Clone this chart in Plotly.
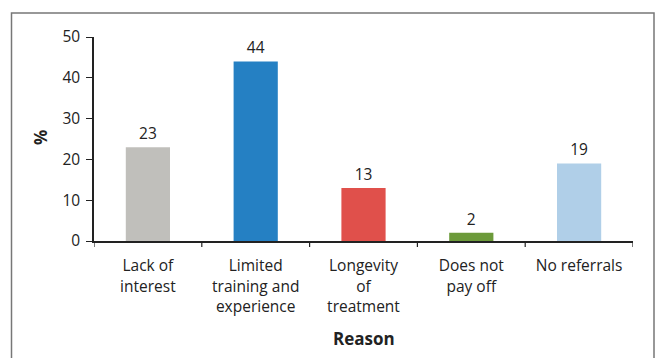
import plotly.graph_objects as go

# Reasons for not offering the service and share of respondents (%)
reasons = ["Lack of<br>interest", "Limited<br>training and<br>experience",
           "Longevity<br>of<br>treatment", "Does not<br>pay off", "No referrals"]
percent = [23, 44, 13, 2, 19]
bar_colors = ["#C0BFBB", "#2580C3", "#E0504B", "#6C9A3A", "#B0CFE8"]
y_ticks = [0, 10, 20, 30, 40, 50]

W, H = 657, 358
L, R, T, B = 94, 24, 37, 117
pw, ph = W - L - R, H - T - B

FONT = "Open Sans"
TXT = "#222222"
FS = 15.5

fig = go.Figure(go.Bar(
    x=list(range(len(reasons))),
    y=percent,
    marker=dict(color=bar_colors, line=dict(width=0)),
    width=0.41,
    text=[str(v) for v in percent],
    textposition="outside",
    textfont=dict(family=FONT, size=FS, color=TXT),
    cliponaxis=False,
))

fig.update_layout(
    width=W, height=H,
    margin=dict(l=L, r=R, t=T, b=B, pad=0),
    paper_bgcolor="white", plot_bgcolor="white",
    showlegend=False,
    font=dict(family=FONT, size=FS, color=TXT),
    xaxis=dict(
        range=[-0.5, len(reasons) - 0.5],
        tickmode="array",
        tickvals=list(range(len(reasons))),
        ticktext=reasons,
        ticks="", showgrid=False, zeroline=False,
        showline=True, linecolor="#222222", linewidth=1.5,
        tickfont=dict(family=FONT, size=FS, color=TXT),
        ticklabelstandoff=10,
        fixedrange=True,
    ),
    yaxis=dict(
        range=[0, 50],
        tickmode="array", tickvals=y_ticks,
        ticks="outside", ticklen=6, tickwidth=1.2, tickcolor="#222222",
        showgrid=False, zeroline=False,
        showline=True, linecolor="#222222", linewidth=1.5,
        tickfont=dict(family=FONT, size=FS, color=TXT),
        ticklabelstandoff=3,
    ),
    bargap=0.59,
)

# Category separator ticks below the x axis
for i in range(len(reasons) + 1):
    fig.add_shape(type="line", xref="x", yref="paper",
                  x0=i - 0.5, x1=i - 0.5, y0=0, y1=-6 / ph,
                  line=dict(color="#222222", width=1.2))

# Axis titles
fig.add_annotation(text="<b>%</b>", xref="paper", yref="paper",
                   x=(40 - L) / pw, y=(H - B - 138) / ph,
                   xanchor="center", yanchor="middle",
                   textangle=-90, showarrow=False,
                   font=dict(family=FONT, size=17, color=TXT))
fig.add_annotation(text="<b>Reason</b>", xref="paper", yref="paper",
                   x=0.5, y=(H - B - 338) / ph,
                   xanchor="center", yanchor="middle",
                   showarrow=False,
                   font=dict(family=FONT, size=17, color=TXT))

# Frame around the chart
fig.add_shape(type="rect", xref="paper", yref="paper",
              x0=(11.5 - L) / pw, x1=(654 - L) / pw,
              y0=(H - B - 380) / ph, y1=(H - B - 13) / ph,
              line=dict(color="#777777", width=1.5), layer="below")

fig.write_html("out.html")
